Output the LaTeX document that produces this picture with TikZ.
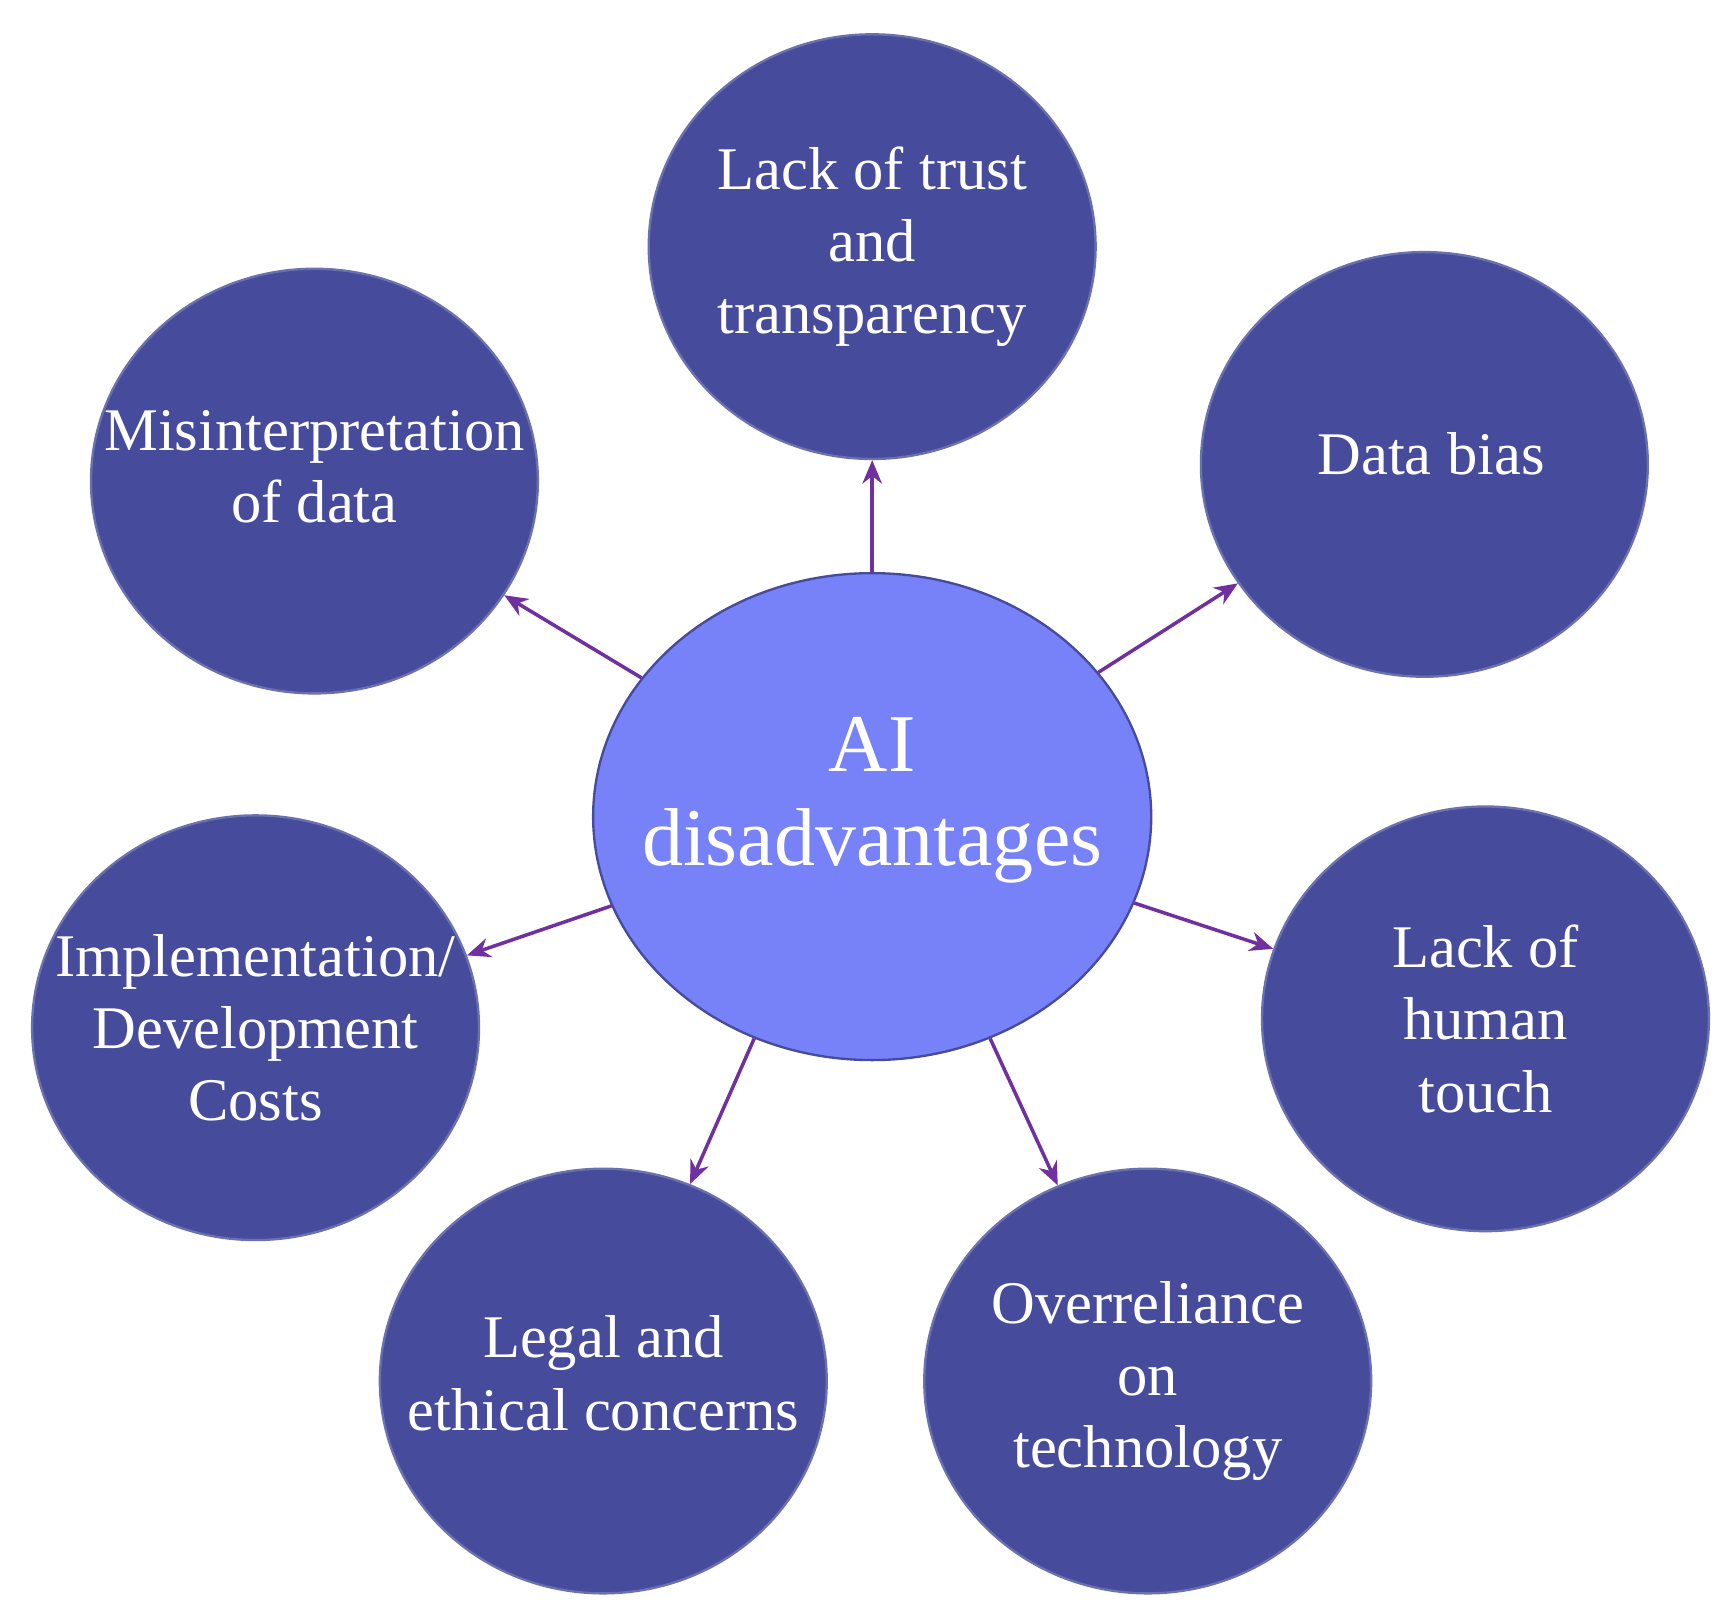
\documentclass[tikz,border=0pt]{standalone}
\usepackage{fontspec}
\setmainfont{Liberation Serif}
\usetikzlibrary{shapes.geometric,arrows.meta}
\definecolor{outerc}{RGB}{70,76,155}
\definecolor{innerc}{RGB}{119,129,248}
\definecolor{arrc}{RGB}{112,48,160}
\tikzset{
 outer/.style={ellipse,fill=outerc,draw=outerc!80!white,line width=0.6pt,minimum width=4.02cm,minimum height=3.82cm,inner sep=0pt},
 inner/.style={ellipse,fill=innerc,draw=outerc,line width=0.6pt,minimum width=5.02cm,minimum height=4.38cm,inner sep=0pt},
 otxt/.style={text=white,align=center,font=\fontsize{15.5}{18.5}\selectfont},
 itxt/.style={text=white,align=center,font=\fontsize{21}{24}\selectfont},
 arr/.style={draw=arrc,line width=0.9pt,-{Stealth[length=6pt,width=5pt]}}
}
\begin{document}
\begin{tikzpicture}[x=0.01cm,y=-0.01cm]
\useasboundingbox (0,0) rectangle (1558,1455);
\node[inner] (c) at (785,735) {};
\node[itxt] (ct) at (785,720) {AI\\disadvantages};
\node[outer] (t) at (785,222) {};
\node[otxt] (tt) at (t) {Lack of trust\\and\\transparency};
\node[outer] (d) at (1282,418) {};
\node[otxt] (dt) at (1288,408) {Data bias};
\node[outer] (m) at (283,433) {};
\node[otxt] (mt) at (283,420) {Misinterpretation\\of data};
\node[outer] (i) at (230,925) {};
\node[otxt] (it) at (i) {Implementation/\\Development\\Costs};
\node[outer] (h) at (1337,917) {};
\node[otxt] (ht) at (h) {Lack of\\human\\touch};
\node[outer] (l) at (543,1243) {};
\node[otxt] (lt) at (543,1236) {Legal and\\ethical concerns};
\node[outer] (o) at (1033,1243) {};
\node[otxt] (ot) at (o) {Overreliance\\on\\technology};
\draw[arr] (c) -- (t);
\draw[arr] (c) -- (d);
\draw[arr] (c) -- (m);
\draw[arr] (c) -- (i);
\draw[arr] (c) -- (h);
\draw[arr] (c.-118) -- (l);
\draw[arr] (c.-62) -- (o);
\end{tikzpicture}
\end{document}
